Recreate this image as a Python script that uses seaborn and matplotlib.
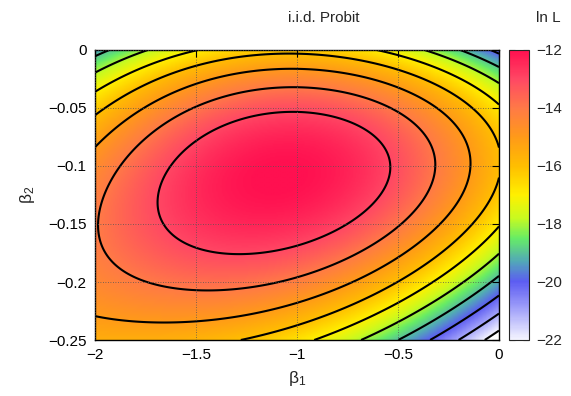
import numpy as np
import matplotlib
matplotlib.use("Agg")
import matplotlib.pyplot as plt
from matplotlib.colors import LinearSegmentedColormap
import seaborn as sns

# ---- values (contour crossings: beta1, beta2, ln L) ----
pt_beta1 = [-1.93, -1.73, -1.475, -0.59, -0.36, -0.21, -0.04,           # top edge
            -1.05, -1.05, -1.05, -1.05, -1.05,                            # vertical at -1.05
            -2.0, -2.0, -2.0, -2.0, -2.0, -2.0, -2.0,                     # left edge
            -1.27, -0.91, -0.69, -0.49, -0.34, -0.20, -0.07,              # bottom edge
            0.0, 0.0, 0.0, 0.0, 0.0,                                      # right edge (upper)
            0.0, 0.0, 0.0, 0.0, 0.0, 0.0,                                 # right edge (lower)
            -1.678, -0.579, -1.35,                                        # inner ellipse
            -1.505, -0.327,
            -0.144, -1.505,
            -1.13, 0.0, -2.0]
pt_beta2 = [0.0, 0.0, 0.0, 0.0, 0.0, 0.0, 0.0,
            -0.0033, -0.0163, -0.031, -0.0534, -0.166,
            -0.004, -0.020, -0.036, -0.058, -0.0845, -0.149, -0.227,
            -0.25, -0.25, -0.25, -0.25, -0.25, -0.25, -0.25,
            -0.004, -0.013, -0.028, -0.049, -0.11,
            -0.149, -0.172, -0.197, -0.213, -0.228, -0.242,
            -0.153, -0.0957, -0.172,
            -0.207, -0.106,
            -0.121, -0.234,
            -0.124, -0.25, -0.25]
pt_lnL = [-19, -18, -17, -17, -18, -19, -20,
          -16, -15, -14, -13, -13,
          -19, -18, -17, -16, -15, -14, -15,
          -16, -17, -18, -19, -20, -21, -22,
          -20, -19, -18, -17, -15.95,
          -17, -18, -19, -20, -21, -22,
          -13, -13, -13,
          -14, -14,
          -15, -15,
          -11.8, -22.7, -15.5]

contour_levels = [-22, -21, -20, -19, -18, -17, -16, -15, -14, -13]
x_ticks = [-2, -1.5, -1, -0.5, 0]
y_ticks = [0, -0.05, -0.1, -0.15, -0.2, -0.25]
cb_ticks = [-12, -14, -16, -18, -20, -22]

# ---- smooth surface through the read points (quartic least squares) ----
def basis(b1, b2):
    u = np.asarray(b1, float) + 1.0
    v = (np.asarray(b2, float) + 0.125) / 0.125
    terms = [u**i * v**j for i in range(5) for j in range(5 - i)]
    return np.stack(terms, axis=-1)

coef, *_ = np.linalg.lstsq(basis(pt_beta1, pt_beta2), np.asarray(pt_lnL, float), rcond=None)
g1 = np.linspace(-2, 0, 301)
g2 = np.linspace(-0.25, 0, 221)
G1, G2 = np.meshgrid(g1, g2)
Z = basis(G1, G2) @ coef

# ---- style ----
sns.set_style("white")
plt.rcParams["font.family"] = ["Liberation Sans", "DejaVu Sans"]
plt.rcParams["mathtext.default"] = "regular"

stops = [(0.00, "#f4f4ff"), (0.10, "#a6a6fa"), (0.20, "#5c5cf2"), (0.27, "#52a8b8"),
         (0.35, "#66ec66"), (0.42, "#c8fa20"), (0.50, "#fff000"), (0.60, "#ffbe00"),
         (0.70, "#ff9a18"), (0.80, "#ff7a46"), (0.90, "#ff4864"), (1.00, "#ff1050")]
cmap = LinearSegmentedColormap.from_list("gp", stops)
cmap.set_under("white")

fig = plt.figure(figsize=(5.71, 3.96), dpi=100)
ax = fig.add_axes([95/571, 1-340/396, 404/571, 290/396])
cax = fig.add_axes([509/571, 1-340/396, 20/571, 290/396])

im = ax.imshow(Z, origin="lower", extent=[-2, 0, -0.25, 0], aspect="auto",
               cmap=cmap, vmin=-22, vmax=-12, interpolation="bilinear")
ax.contour(G1, G2, Z, levels=contour_levels, colors="black", linewidths=1.5,
           linestyles="solid")
ax.set_xlim(-2, 0)
ax.set_ylim(-0.25, 0)
ax.set_xticks(x_ticks)
ax.set_yticks(y_ticks)
ax.set_xticklabels(["\u22122", "\u22121.5", "\u22121", "\u22120.5", "0"])
ax.set_yticklabels(["0", "\u22120.05", "\u22120.1", "\u22120.15", "\u22120.2", "\u22120.25"])
ax.grid(True, color="#555555", linestyle=(0, (1, 2)), linewidth=0.6)
ax.set_axisbelow(False)
ax.tick_params(direction="in", length=5, width=0.8, top=True, right=True,
               labelsize=11, colors="black", pad=6)
for s in ax.spines.values():
    s.set_linewidth(1.0)
    s.set_color("black")
ax.set_xlabel(r"$\beta_1$", fontsize=12.5, labelpad=5)
ax.set_ylabel(r"$\beta_2$", fontsize=12.5, labelpad=8)

cb = fig.colorbar(im, cax=cax, ticks=cb_ticks)
cb.ax.set_yticklabels(["\u2212%d" % abs(t) for t in cb_ticks])
cb.ax.tick_params(direction="in", length=4, width=0.8, labelsize=11, left=True, right=True, pad=5)
cb.outline.set_linewidth(0.8)

fig.text(324/571, 1-18/396, "i.i.d. Probit", ha="center", va="center", fontsize=11)
fig.text(548/571, 1-18/396, "ln L", ha="center", va="center", fontsize=11)

fig.savefig("out.png", dpi=100)
